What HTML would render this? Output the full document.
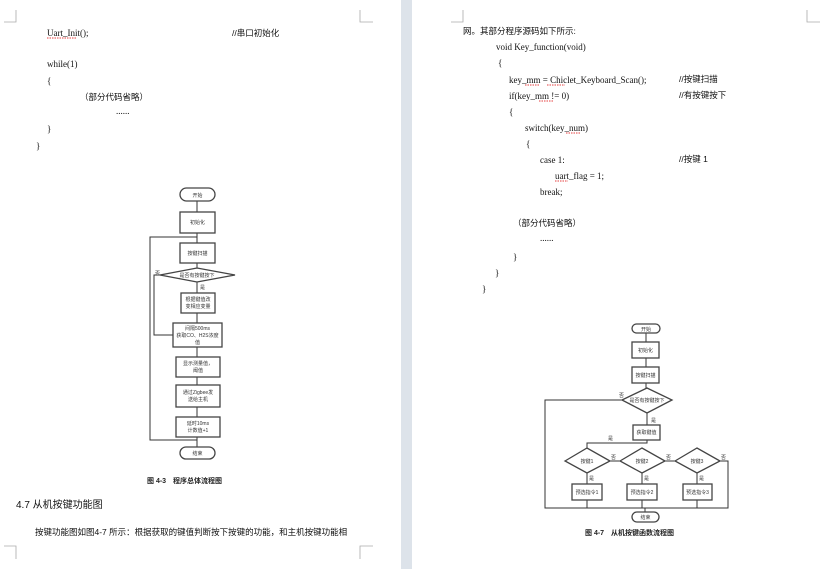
<!DOCTYPE html>
<html><head><meta charset="utf-8"><style>
html,body{margin:0;padding:0;background:#fff;width:826px;height:569px;overflow:hidden}
svg{display:block}
.c{font-family:"Liberation Serif","Noto Serif CJK SC",serif;font-size:9px;fill:#111}
.z{font-family:"Liberation Sans","Noto Sans CJK SC",sans-serif;font-size:8.5px;fill:#111}
.f{font-family:"Liberation Sans","Noto Sans CJK SC",sans-serif;font-size:5px;fill:#333;text-anchor:middle}
.l{font-family:"Liberation Sans","Noto Sans CJK SC",sans-serif;font-size:5px;fill:#333}
.cap{font-family:"Liberation Sans","Noto Sans CJK SC",sans-serif;font-size:7px;font-weight:bold;fill:#222}
.b{fill:#fff;stroke:#444;stroke-width:1.3}
.ln{fill:none;stroke:#333;stroke-width:1}
.sq{stroke:#d00;stroke-width:0.8;stroke-dasharray:1.5 1;fill:none}
.cm{stroke:#aaa;stroke-width:0.8;fill:none}
</style></head><body>
<svg width="826" height="569" viewBox="0 0 826 569" xmlns="http://www.w3.org/2000/svg">
<rect x="0" y="0" width="826" height="569" fill="#fff"/>
<rect x="401" y="0" width="11" height="569" fill="#dde3ea"/>
<path class="cm" d="M16 10V22H4 M360 10V22H373 M16 559V546H4 M360 559V546H373 M463 10V22H451 M807 10V22H820"/>
<text class="c" x="47" y="36">Uart_Init();</text>
<path class="sq" d="M47 38H77"/>
<text class="z" x="232" y="36">//串口初始化</text>
<text class="c" x="47" y="67">while(1)</text>
<text class="c" x="47" y="84">{</text>
<text class="z" x="80" y="100">（部分代码省略）</text>
<text class="c" x="116" y="114">......</text>
<text class="c" x="47" y="132">}</text>
<text class="c" x="36" y="149">}</text>
<g>
<path class="ln" d="M197 201V212 M197 233V243 M197 263V268 M197 282V293 M197 313V323 M197 347V357 M197 377V385 M197 407V417 M197 437V447"/>
<path class="ln" d="M197 440H150V237H197"/>
<path class="ln" d="M160 275H154V335H173"/>
<rect class="b" x="180" y="188" width="35" height="13" rx="6.5"/>
<text class="f" x="197.5" y="197">开始</text>
<rect class="b" x="180" y="212" width="35" height="21"/>
<text class="f" x="197.5" y="224">初始化</text>
<rect class="b" x="180" y="243" width="35" height="20"/>
<text class="f" x="197.5" y="255">按键扫描</text>
<polygon class="b" points="160,275 197,268 235,275 197,282"/>
<text class="f" x="197" y="277">是否有按键按下</text>
<text class="l" x="155" y="275">否</text>
<text class="l" x="200" y="289">是</text>
<rect class="b" x="181" y="293" width="34" height="20"/>
<text class="f" x="198" y="301">根据键值改</text><text class="f" x="198" y="308">变相应变量</text>
<rect class="b" x="173" y="323" width="49" height="24"/>
<text class="f" x="197.5" y="330">间隔500ms</text><text class="f" x="197.5" y="337">获取CO、H2S浓度</text><text class="f" x="197.5" y="344">值</text>
<rect class="b" x="176" y="357" width="44" height="20"/>
<text class="f" x="198" y="365">显示测量值，</text><text class="f" x="198" y="372">阈值</text>
<rect class="b" x="176" y="385" width="44" height="22"/>
<text class="f" x="198" y="394">通过Zigbee发</text><text class="f" x="198" y="401">送给主机</text>
<rect class="b" x="176" y="417" width="44" height="20"/>
<text class="f" x="198" y="425">延时10ms</text><text class="f" x="198" y="432">计数值+1</text>
<rect class="b" x="180" y="447" width="35" height="12" rx="6"/>
<text class="f" x="197.5" y="455">结束</text>
</g>
<text class="cap" x="147" y="483">图 4-3　程序总体流程图</text>
<text x="16" y="508" style="font-family:'Liberation Sans','Noto Sans CJK SC',sans-serif;font-size:10px;fill:#111">4.7 从机按键功能图</text>
<text class="z" x="35" y="535">按键功能图如图4-7 所示：根据获取的键值判断按下按键的功能，和主机按键功能相</text>
<text class="z" x="463" y="34">网。其部分程序源码如下所示:</text>
<text class="c" x="496" y="50">void Key_function(void)</text>
<text class="c" x="498" y="66">{</text>
<text class="c" x="509" y="83">key_mm = Chiclet_Keyboard_Scan();</text>
<path class="sq" d="M525 85H540 M547 85H565"/>
<text class="z" x="679" y="82">//按键扫描</text>
<text class="c" x="509" y="99">if(key_mm != 0)</text>
<path class="sq" d="M539 101H553"/>
<text class="z" x="679" y="98">//有按键按下</text>
<text class="c" x="509" y="115">{</text>
<text class="c" x="525" y="131">switch(key_num)</text>
<path class="sq" d="M566 133H581"/>
<text class="c" x="526" y="147">{</text>
<text class="c" x="540" y="163">case 1:</text>
<text class="z" x="679" y="162">//按键 1</text>
<text class="c" x="555" y="179">uart_flag = 1;</text>
<path class="sq" d="M555 181H568"/>
<text class="c" x="540" y="195">break;</text>
<text class="z" x="513" y="226">（部分代码省略）</text>
<text class="c" x="540" y="241">......</text>
<text class="c" x="513" y="260">}</text>
<text class="c" x="495" y="276">}</text>
<text class="c" x="482" y="292">}</text>
<g>
<path class="ln" d="M646 333V342 M646 358V367 M646 383V388 M647 413V425"/>
<path class="ln" d="M622 400H545V508H728V461H720"/>
<path class="ln" d="M647 440V443H587V448 M610 461H620 M665 461H675"/>
<path class="ln" d="M587 473V484 M642 473V484 M697 473V484"/>
<path class="ln" d="M587 500V508 M642 500V508 M697 500V508 M645 508V512"/>
<rect class="b" x="632" y="324" width="28" height="9" rx="4.5"/>
<text class="f" x="646" y="331">开始</text>
<rect class="b" x="632" y="342" width="27" height="16"/>
<text class="f" x="645.5" y="352">初始化</text>
<rect class="b" x="632" y="367" width="27" height="16"/>
<text class="f" x="645.5" y="377">按键扫描</text>
<polygon class="b" points="622,400 647,388 672,400 647,413"/>
<text class="f" x="647" y="402">是否有按键按下</text>
<text class="l" x="619" y="397">否</text>
<text class="l" x="651" y="422">是</text>
<rect class="b" x="633" y="425" width="27" height="15"/>
<text class="f" x="646.5" y="434">获取键值</text>
<text class="l" x="608" y="440">是</text>
<polygon class="b" points="565,461 587,448 610,461 587,473"/>
<text class="f" x="587" y="463">按键1</text>
<polygon class="b" points="620,461 642,448 665,461 642,473"/>
<text class="f" x="642" y="463">按键2</text>
<polygon class="b" points="675,461 697,448 720,461 697,473"/>
<text class="f" x="697" y="463">按键3</text>
<text class="l" x="611" y="459">否</text><text class="l" x="666" y="459">否</text><text class="l" x="721" y="459">否</text>
<text class="l" x="589" y="480">是</text><text class="l" x="644" y="480">是</text><text class="l" x="699" y="480">是</text>
<rect class="b" x="572" y="484" width="30" height="16"/>
<text class="f" x="587" y="494">预选指令1</text>
<rect class="b" x="627" y="484" width="30" height="16"/>
<text class="f" x="642" y="494">预选指令2</text>
<rect class="b" x="683" y="484" width="29" height="16"/>
<text class="f" x="697.5" y="494">预选指令3</text>
<rect class="b" x="632" y="512" width="27" height="10" rx="5"/>
<text class="f" x="645.5" y="519">结束</text>
</g>
<text class="cap" x="585" y="535">图 4-7　从机按键函数流程图</text>
</svg>
</body></html>
